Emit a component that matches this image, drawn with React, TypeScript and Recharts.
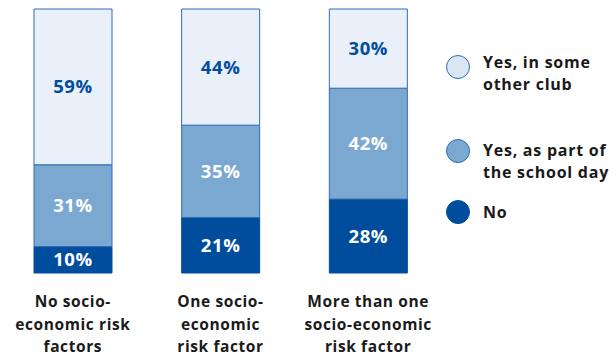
import React from "react";
import { BarChart, Bar, XAxis, YAxis, LabelList } from "recharts";

const categories = [
  ["No socio-", "economic risk", "factors"],
  ["One socio-", "economic", "risk factor"],
  ["More than one", "socio-economic", "risk factor"],
];
const noValues = [10, 21, 28];
const schoolDayValues = [31, 35, 42];
const otherClubValues = [59, 44, 30];

const FONT = "'Open Sans', 'Noto Sans', sans-serif";
const DARK = "#004c9d";
const MID = "#7ba8d1";
const LIGHT = "#e9f0f9";
const EDGE = "#2f6db3";

const chartData = categories.map((lines, i) => ({
  name: lines.join(" "),
  no: noValues[i],
  school: schoolDayValues[i],
  other: otherClubValues[i],
}));

const legendItems = [
  { lines: ["Yes, in some", "other club"], fill: "#dbe6f4", stroke: EDGE, cy: 67, base: 68 },
  { lines: ["Yes, as part of", "the school day"], fill: MID, stroke: EDGE, cy: 151, base: 156 },
  { lines: ["No"], fill: DARK, stroke: DARK, cy: 212, base: 218 },
];

function CategoryTick(props: any) {
  const { x, y, payload, index } = props;
  const lines = categories[index] || [payload.value];
  return (
    <g transform={`translate(${x},${y})`}>
      {lines.map((l: string, i: number) => (
        <text
          key={i}
          x={0}
          y={26 + i * 22.5}
          textAnchor="middle"
          fill="#1a1a1a"
          fontFamily={FONT}
          fontWeight={700}
          fontSize={15.5}
          letterSpacing={0.6}
        >
          {l}
        </text>
      ))}
    </g>
  );
}

function LegendBox() {
  return (
    <svg width={616} height={354} style={{ position: "absolute", left: 0, top: 0, pointerEvents: "none" }}>
      {legendItems.map((it, i) => (
        <g key={i}>
          <circle cx={458} cy={it.cy} r={11.5} fill={it.fill} stroke={it.stroke} strokeWidth={1} />
          {it.lines.map((l, j) => (
            <text
              key={j}
              x={483}
              y={it.base + j * 21.5}
              fill="#1a1a1a"
              fontFamily={FONT}
              fontWeight={700}
              fontSize={16}
              letterSpacing={0.75}
            >
              {l}
            </text>
          ))}
        </g>
      ))}
    </svg>
  );
}

const pct = (v: any) => `${v}%`;

export default function App() {
  return (
    <div style={{ position: "absolute", left: 0, top: 0, width: 616, height: 354, background: "#fff", overflow: "hidden" }}>
      <BarChart
        width={616}
        height={354}
        data={chartData}
        margin={{ top: 9, right: 174, bottom: 1, left: -1 }}
      >
        <XAxis
          dataKey="name"
          axisLine={false}
          tickLine={false}
          height={80}
          interval={0}
          tick={<CategoryTick />}
        />
        <YAxis hide domain={[0, 100]} />
        <Bar dataKey="no" stackId="a" fill={DARK} stroke={DARK} strokeWidth={1} barSize={78} isAnimationActive={false}>
          <LabelList dataKey="no" position="center" formatter={pct} fill="#ffffff" fontFamily={FONT} fontWeight={700} fontSize={18.5} letterSpacing={0.6} />
        </Bar>
        <Bar dataKey="school" stackId="a" fill={MID} stroke={EDGE} strokeWidth={1} barSize={78} isAnimationActive={false}>
          <LabelList dataKey="school" position="center" formatter={pct} fill="#ffffff" fontFamily={FONT} fontWeight={700} fontSize={18.5} letterSpacing={0.6} />
        </Bar>
        <Bar dataKey="other" stackId="a" fill={LIGHT} stroke={EDGE} strokeWidth={1} barSize={78} isAnimationActive={false}>
          <LabelList dataKey="other" position="center" formatter={pct} fill={DARK} fontFamily={FONT} fontWeight={700} fontSize={18.5} letterSpacing={0.6} />
        </Bar>
      </BarChart>
      <LegendBox />
    </div>
  );
}
